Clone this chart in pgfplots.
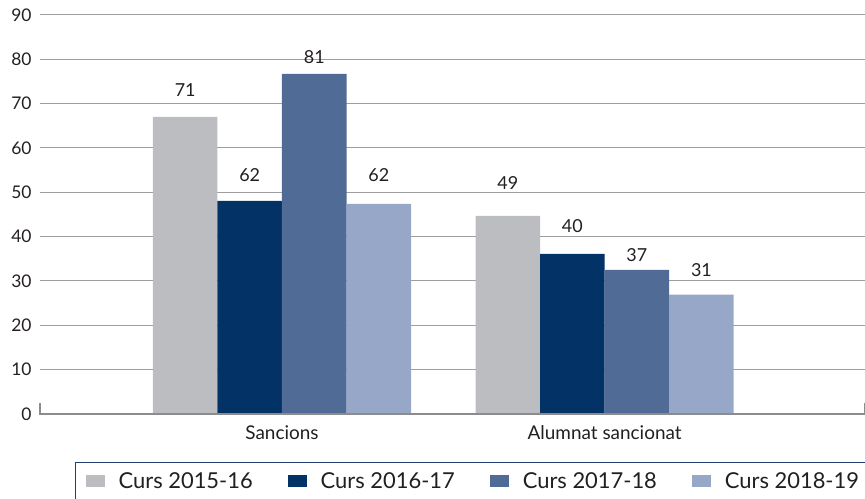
\documentclass[border=0pt]{standalone}
\usepackage{pgfplots}
\pgfplotsset{compat=1.18}
\usepackage{fontspec}
\setmainfont{Lato}
\definecolor{cA}{HTML}{BCBDC1}
\definecolor{cB}{HTML}{033366}
\definecolor{cC}{HTML}{4F6B96}
\definecolor{cD}{HTML}{97A7C7}
\definecolor{gridc}{HTML}{9E9E9E}
\definecolor{axc}{HTML}{8C8C8C}
\definecolor{txt}{HTML}{231F20}
\definecolor{legc}{HTML}{1F3E6E}
\pgfplotsset{
  mybar/.style={ybar, bar width=0.2, draw=none, fill=#1,
    legend image code/.code={\fill[fill=#1] (0bp,-6bp) rectangle (19bp,6bp);}},
}
\begin{document}
\begin{tikzpicture}
\path[use as bounding box] (0,0) rectangle (865bp,499bp);
\begin{axis}[
  at={(40bp,85bp)}, anchor=south west,
  scale only axis, width=825bp, height=399bp,
  xmin=-0.75, xmax=1.807, ymin=0, ymax=90,
  axis line style={draw=none},
  ytick={0,10,...,90},
  xtick={0,1}, xticklabels={Sancions, Alumnat sancionat},
  major tick length=0pt,
  ymajorgrids, grid style={color=gridc, line width=1bp},
  /pgf/number format/assume math mode=true,
  yticklabel style={font=\fontsize{17.5}{20}\selectfont, text=txt, xshift=-5bp},
  xticklabel style={font=\fontsize{19}{22}\selectfont, text=txt, yshift=-8bp},
  legend columns=4,
  legend style={at={(0.0424,-0.1203)}, anchor=north west, draw=legc, line width=1.3bp,
    font=\fontsize{22}{26}\selectfont, text=txt, inner xsep=10bp, inner ysep=8bp,
    /tikz/every odd column/.append style={column sep=12bp},
    /tikz/every even column/.append style={column sep=33bp}},
  every node near coord/.append style={anchor=center, font=\fontsize{18}{21}\selectfont, text=txt},
  clip=false,
]
\addplot[mybar=cA, bar shift=-0.3] coordinates {(0,67.0) (1,44.7)};
\addlegendentry{Curs 2015-16}
\addplot[mybar=cB, bar shift=-0.1] coordinates {(0,48.1) (1,36.1)};
\addlegendentry{Curs 2016-17}
\addplot[mybar=cC, bar shift=0.1] coordinates {(0,76.7) (1,32.5)};
\addlegendentry{Curs 2017-18}
\addplot[mybar=cD, bar shift=0.3] coordinates {(0,47.4) (1,26.9)};
\addlegendentry{Curs 2018-19}
\addplot[draw=none, forget plot, nodes near coords, point meta=explicit symbolic]
  coordinates {(-0.3,73.1)[71] (-0.1,53.9)[62] (0.1,80.5)[81] (0.3,53.9)[62]
               (0.7,52.1)[49] (0.9,42.4)[40] (1.1,35.9)[37] (1.3,32.5)[31]};
\draw[axc, line width=2.5bp] (axis cs:-0.75,2.5) -- (axis cs:-0.75,0) -- (axis cs:1.807,0) -- (axis cs:1.807,2.5);
\end{axis}
\end{tikzpicture}
\end{document}
